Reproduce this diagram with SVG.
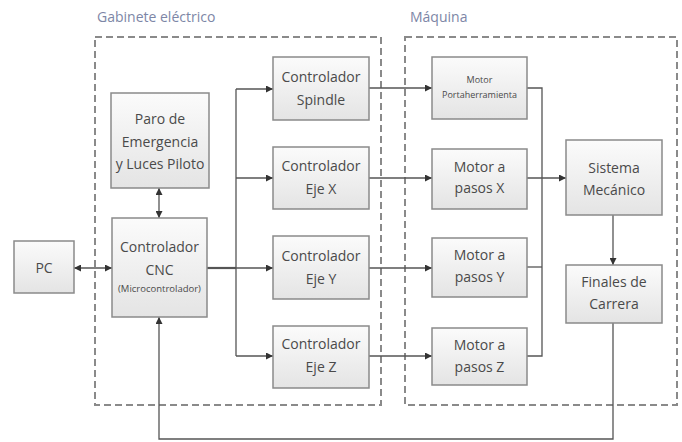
<svg xmlns="http://www.w3.org/2000/svg" width="682" height="442" viewBox="0 0 682 442">
<defs>
<linearGradient id="g" x1="0" y1="0" x2="0" y2="1">
<stop offset="0" stop-color="#fbfbfb"/>
<stop offset="1" stop-color="#e4e4e4"/>
</linearGradient>
<marker id="ah" viewBox="0 0 8 8" refX="8" refY="4" markerWidth="8" markerHeight="7" markerUnits="userSpaceOnUse" orient="auto-start-reverse">
<path d="M0,0 L8,4 L0,8 Z" fill="#333"/>
</marker>
</defs>
<style>
.box{fill:url(#g);stroke:#8a8a8a;stroke-width:1.5}
.zone{fill:none;stroke:#8a8a8a;stroke-width:2;stroke-dasharray:7 4}
.t{font-family:"Open Sans","Liberation Sans",sans-serif;font-size:14px;fill:#4a4a4a;text-anchor:middle}
.s{font-family:"Open Sans","Liberation Sans",sans-serif;font-size:9px;fill:#4a4a4a;text-anchor:middle}
.lbl{font-family:"Open Sans","Liberation Sans",sans-serif;font-size:14px;fill:#7d86a6}
.c{fill:none;stroke:#555;stroke-width:1.3}
.a{marker-end:url(#ah)}
.b{marker-start:url(#ah);marker-end:url(#ah)}
</style>
<rect width="682" height="442" fill="#fff"/>
<g id="zones">
<rect class="zone" x="95" y="37" width="286" height="368"/>
<text class="lbl" x="97" y="22">Gabinete eléctrico</text>
<rect class="zone" x="405" y="37" width="272" height="368"/>
<text class="lbl" x="410" y="22">Máquina</text>
</g>
<g id="connectors">
<line class="c b" x1="74" y1="268" x2="112" y2="268"/>
<line class="c b" x1="159" y1="188" x2="159" y2="218"/>
<line class="c" x1="207" y1="268" x2="236" y2="268" style="stroke-width:2.2"/>
<line class="c" x1="236" y1="89" x2="236" y2="356"/>
<line class="c a" x1="236" y1="89" x2="273" y2="89"/>
<line class="c a" x1="236" y1="178" x2="273" y2="178"/>
<line class="c a" x1="236" y1="268" x2="273" y2="268"/>
<line class="c a" x1="236" y1="356" x2="273" y2="356"/>
<line class="c a" x1="369" y1="88" x2="432" y2="88"/>
<line class="c a" x1="369" y1="178" x2="432" y2="178"/>
<line class="c a" x1="369" y1="268" x2="432" y2="268"/>
<line class="c a" x1="369" y1="356" x2="432" y2="356"/>
<polyline class="c" points="527,88 542,88 542,356 527,356"/>
<line class="c" x1="527" y1="267" x2="542" y2="267"/>
<line class="c a" x1="527" y1="178" x2="566" y2="178"/>
<line class="c a" x1="613" y1="215" x2="613" y2="265"/>
<polyline class="c a" points="613,323 613,439 159,439 159,317"/>
</g>
<g id="pc"><rect class="box" x="14" y="241" width="60" height="52"/><text class="t" x="44" y="273">PC</text></g>
<g id="cnc"><rect class="box" x="112" y="218" width="95" height="99"/><text class="t" x="159.5" y="252">Controlador</text><text class="t" x="159.5" y="275">CNC</text><text class="s" x="159.5" y="292" style="font-size:9.5px">(Microcontrolador)</text></g>
<g id="paro"><rect class="box" x="111" y="93" width="98" height="95"/><text class="t" x="160" y="124">Paro de</text><text class="t" x="160" y="147">Emergencia</text><text class="t" x="160" y="169">y Luces Piloto</text></g>
<g id="spindle"><rect class="box" x="273" y="57" width="96" height="63"/><text class="t" x="321" y="82">Controlador</text><text class="t" x="321" y="105">Spindle</text></g>
<g id="ejex"><rect class="box" x="273" y="147" width="96" height="62"/><text class="t" x="321" y="171">Controlador</text><text class="t" x="321" y="194">Eje X</text></g>
<g id="ejey"><rect class="box" x="273" y="236" width="96" height="63"/><text class="t" x="321" y="261">Controlador</text><text class="t" x="321" y="284">Eje Y</text></g>
<g id="ejez"><rect class="box" x="273" y="326" width="96" height="62"/><text class="t" x="321" y="349">Controlador</text><text class="t" x="321" y="372">Eje Z</text></g>
<g id="portaherramienta"><rect class="box" x="432" y="57" width="95" height="62"/><text class="s" x="479.5" y="83">Motor</text><text class="s" x="479.5" y="98">Portaherramienta</text></g>
<g id="motorx"><rect class="box" x="432" y="149" width="95" height="60"/><text class="t" x="479.5" y="172">Motor a</text><text class="t" x="479.5" y="193">pasos X</text></g>
<g id="motory"><rect class="box" x="432" y="238" width="95" height="59"/><text class="t" x="479.5" y="260">Motor a</text><text class="t" x="479.5" y="282">pasos Y</text></g>
<g id="motorz"><rect class="box" x="432" y="328" width="95" height="57"/><text class="t" x="479.5" y="350">Motor a</text><text class="t" x="479.5" y="372">pasos Z</text></g>
<g id="sistema"><rect class="box" x="566" y="140" width="96" height="75"/><text class="t" x="614" y="173">Sistema</text><text class="t" x="614" y="195">Mecánico</text></g>
<g id="finales"><rect class="box" x="566" y="265" width="96" height="58"/><text class="t" x="614" y="287">Finales de</text><text class="t" x="614" y="309">Carrera</text></g>
</svg>
